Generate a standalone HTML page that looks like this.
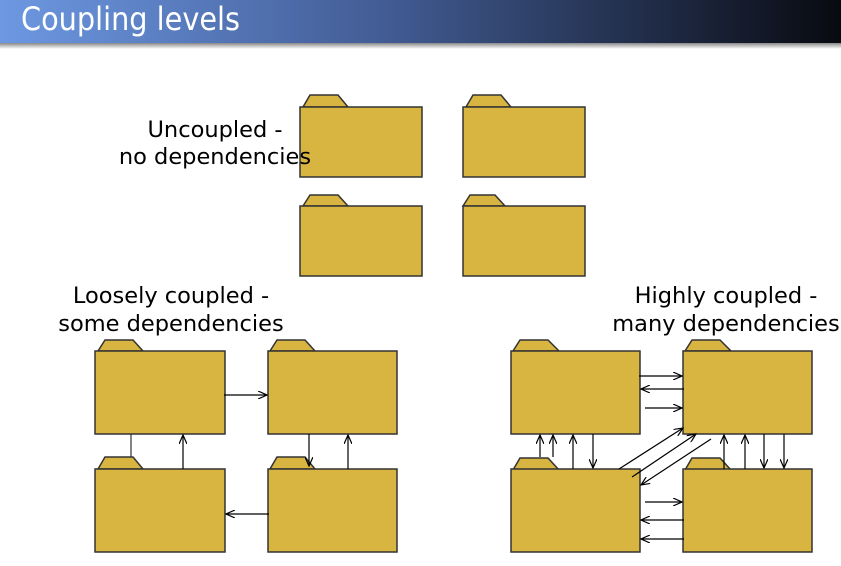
<!DOCTYPE html>
<html><head><meta charset="utf-8"><style>
body{margin:0;width:841px;height:566px;overflow:hidden;background:#fff}
svg{display:block}
</style></head><body>
<svg width="841" height="566" viewBox="0 0 841 566" xmlns="http://www.w3.org/2000/svg">
<defs>
<linearGradient id="g" x1="0" x2="1" y1="0" y2="0">
<stop offset="0" stop-color="#6d98e2"/><stop offset="0.45" stop-color="#435d96"/><stop offset="1" stop-color="#080a10"/>
</linearGradient>
<linearGradient id="sh" x1="0" x2="0" y1="0" y2="1">
<stop offset="0" stop-color="#888"/><stop offset="1" stop-color="#fff"/>
</linearGradient>
<marker id="a" markerWidth="10" markerHeight="8" refX="9" refY="4" orient="auto" markerUnits="userSpaceOnUse">
<path d="M0,0 L9,4 L0,8" fill="none" stroke="#000" stroke-width="1.2"/>
</marker>
</defs>
<rect x="0" y="0" width="841" height="43" fill="url(#g)"/>
<rect x="0" y="43" width="841" height="6" fill="url(#sh)"/>
<text x="21" y="30" font-family="DejaVu Sans Condensed, DejaVu Sans, sans-serif" font-size="32" fill="#fff" textLength="219" lengthAdjust="spacingAndGlyphs">Coupling levels</text>

<g fill="#d8b440" stroke="#333" stroke-width="1.5">
<path d="M303,107 L310,95 L338,95 L348,107Z"/><rect x="300" y="107" width="122" height="70"/>
<path d="M466,107 L473,95 L501,95 L511,107Z"/><rect x="463" y="107" width="122" height="70"/>
<path d="M303,206 L310,195 L338,195 L348,206Z"/><rect x="300" y="206" width="122" height="70"/>
<path d="M463,206 L470,195 L495,195 L505,206Z"/><rect x="463" y="206" width="122" height="70"/>
<path d="M98,351 L105,340 L133,340 L143,351Z"/><rect x="95" y="351" width="130" height="83"/>
<path d="M270,351 L277,340 L305,340 L315,351Z"/><rect x="268" y="351" width="129" height="83"/>
<path d="M98,469 L105,457 L133,457 L143,469Z"/><rect x="95" y="469" width="130" height="83"/>
<path d="M270,469 L277,457 L305,457 L315,469Z"/><rect x="268" y="469" width="129" height="83"/>
<path d="M513,351 L520,340 L548,340 L559,351Z"/><rect x="511" y="351" width="129" height="83"/>
<path d="M685,351 L692,340 L720,340 L731,351Z"/><rect x="683" y="351" width="129" height="83"/>
<path d="M513,470 L520,458 L548,458 L559,470Z"/><rect x="511" y="469" width="129" height="83"/>
<path d="M685,470 L692,458 L720,458 L731,470Z"/><rect x="683" y="469" width="129" height="83"/>
</g>

<g stroke="#000" stroke-width="1.2" fill="none" marker-end="url(#a)">
<line x1="224" y1="395" x2="267" y2="395"/>
<line x1="183" y1="469" x2="183" y2="435"/>
<line x1="309" y1="434" x2="309" y2="466"/>
<line x1="348" y1="469" x2="348" y2="435"/>
<line x1="269" y1="514" x2="226" y2="514"/>
<line x1="639" y1="376" x2="682" y2="376"/>
<line x1="684" y1="389" x2="641" y2="389"/>
<line x1="645" y1="408" x2="682" y2="408"/>
<line x1="645" y1="502" x2="682" y2="502"/>
<line x1="684" y1="520" x2="641" y2="520"/>
<line x1="684" y1="539" x2="641" y2="539"/>
<line x1="540" y1="457" x2="540" y2="435"/>
<line x1="553" y1="457" x2="553" y2="435"/>
<line x1="573" y1="469" x2="573" y2="435"/>
<line x1="593" y1="434" x2="593" y2="468"/>
<line x1="724" y1="469" x2="724" y2="435"/>
<line x1="745" y1="469" x2="745" y2="435"/>
<line x1="764" y1="434" x2="764" y2="468"/>
<line x1="784" y1="434" x2="784" y2="468"/>
<line x1="619" y1="469" x2="683" y2="428"/>
<line x1="632" y1="477" x2="696" y2="434"/>
<line x1="711" y1="439" x2="641" y2="485"/>
</g>
<line x1="131" y1="434" x2="131" y2="457" stroke="#333" stroke-width="1.2"/>

<g font-family="DejaVu Sans, sans-serif" font-size="22.5" fill="#000" text-anchor="middle">
<text x="215" y="137">Uncoupled -</text>
<text x="215" y="164">no dependencies</text>
<text x="171" y="303">Loosely coupled -</text>
<text x="171" y="331">some dependencies</text>
<text x="726" y="303">Highly coupled -</text>
<text x="726" y="331">many dependencies</text>
</g>
</svg>
</body></html>
